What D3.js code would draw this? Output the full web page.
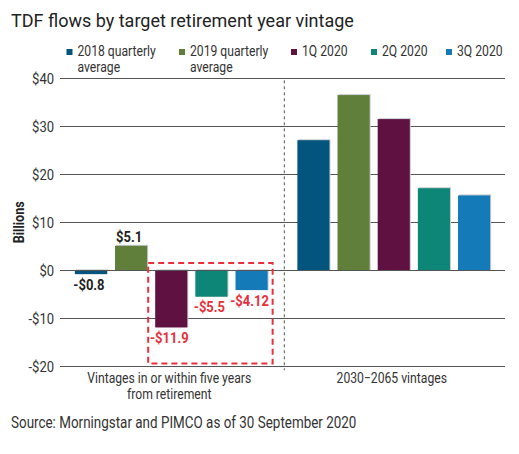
<!DOCTYPE html>
<html>
<head>
<meta charset="utf-8">
<script src="https://cdn.jsdelivr.net/npm/d3@7"></script>
<style>
  body { margin: 0; background: #fff; }
  text { font-family: Roboto, "Noto Sans", sans-serif; }
</style>
</head>
<body>
<script>
// Data
const groups = ["Vintages in or within five years|from retirement", "2030\u22122065 vintages"];
const series = ["2018 quarterly|average", "2019 quarterly|average", "1Q 2020", "2Q 2020", "3Q 2020"];
const colors = ["#03557d", "#5f7f3a", "#5f1142", "#0d8677", "#157bb8"];
const nearValues = [-0.8, 5.1, -11.9, -5.5, -4.12];
const farValues = [27.1, 36.5, 31.5, 17.1, 15.6];
const nearLabels = ["-$0.8", "$5.1", "-$11.9", "-$5.5", "-$4.12"];
const yTicks = [-20, -10, 0, 10, 20, 30, 40];

const width = 519, height = 454;
const condense = 0.84;

const svg = d3.select("body").append("svg")
  .attr("width", width)
  .attr("height", height);

// scales
const x0 = d3.scaleBand().domain(groups).range([60, 505]);
const x1 = d3.scaleBand().domain(series).range([0, x0.bandwidth()])
  .paddingInner(0.2).paddingOuter(0.37);
const y = d3.scaleLinear().domain([-20, 40]).range([366.3, 78.3]);

// condensed text helper (no condensed face installed, so squeeze Roboto)
function ctext(sel, x, yy) {
  return sel.append("text")
    .attr("transform", `translate(${x},${yy}) scale(${condense},1)`);
}

// title
svg.append("text")
  .attr("x", 11).attr("y", 27)
  .style("font-size", "18px")
  .style("fill", "#222")
  .text("TDF flows by target retirement year vintage");

// legend
const legendX = [66.5, 179, 291, 371, 446];
series.forEach((s, i) => {
  const g = svg.append("g");
  g.append("rect")
    .attr("x", legendX[i]).attr("y", 49)
    .attr("width", 6).attr("height", 6)
    .style("fill", colors[i]);
  s.split("|").forEach((line, j) => {
    ctext(g, legendX[i] + 11, 56 + j * 16)
      .style("font-size", "14.5px")
      .style("fill", "#333")
      .text(line);
  });
});

// gridlines
const yAxis = d3.axisLeft(y).tickValues(yTicks)
  .tickSize(-(505 - 60)).tickPadding(6)
  .tickFormat(d => (d < 0 ? "-$" : "$") + Math.abs(d));
const axis = svg.append("g")
  .attr("transform", "translate(60,0)")
  .call(yAxis);
axis.select(".domain").remove();
axis.selectAll("line")
  .style("stroke", "#555")
  .style("stroke-width", "1px")
  .style("shape-rendering", "crispEdges");
axis.selectAll("text")
  .attr("x", null).attr("dy", null)
  .attr("transform", `translate(-6,5.5) scale(${condense},1)`)
  .style("font-family", "Roboto, sans-serif")
  .style("font-size", "15.5px")
  .style("fill", "#333");

// y label
svg.append("text")
  .attr("transform", `translate(24,${(y(40) + y(-20)) / 2}) rotate(-90) scale(${condense},1)`)
  .attr("text-anchor", "middle")
  .style("font-size", "15px")
  .style("font-weight", "bold")
  .style("fill", "#222")
  .text("Billions");

// divider
const divX = (x0(groups[0]) + x1(series[4]) + x1.bandwidth() + x0(groups[1]) + x1(series[0])) / 2 + 1.8;
svg.append("line")
  .attr("x1", divX).attr("x2", divX)
  .attr("y1", y(40) + 2).attr("y2", y(-20) + 4)
  .style("stroke", "#555")
  .style("stroke-width", 1)
  .style("stroke-dasharray", "3,3");

// bars
const table = [nearValues, farValues].map((vals, gi) =>
  vals.map((v, si) => ({ group: groups[gi], series: series[si], value: v, color: colors[si] })));

const bars = svg.append("g").selectAll("g")
  .data(table.flat())
  .enter().append("g")
  .attr("transform", d => `translate(${x0(d.group) + x1(d.series)},0)`);

// light edge on top/right
bars.append("rect")
  .attr("x", 1)
  .attr("y", d => Math.min(y(d.value), y(0)) - 1)
  .attr("width", x1.bandwidth())
  .attr("height", d => Math.abs(y(d.value) - y(0)) + 1)
  .style("fill", "#c9ccd0");

bars.append("rect")
  .attr("x", 0)
  .attr("y", d => Math.min(y(d.value), y(0)))
  .attr("width", x1.bandwidth())
  .attr("height", d => Math.abs(y(d.value) - y(0)))
  .style("fill", d => d.color);

// zero line over bars
svg.append("line")
  .attr("x1", 60).attr("x2", 505)
  .attr("y1", y(0)).attr("y2", y(0))
  .style("stroke", "#555")
  .style("shape-rendering", "crispEdges");

// value labels for near-retirement vintages
nearValues.forEach((v, i) => {
  const cx = x0(groups[0]) + x1(series[i]) + x1.bandwidth() / 2 - 2;
  const ly = v >= 0 ? y(v) - 4 : y(v) + 15.5;
  ctext(svg, cx, ly)
    .attr("text-anchor", "middle")
    .style("font-size", "15.5px")
    .style("font-weight", "bold")
    .style("fill", i >= 2 ? "#e8303a" : "#222")
    .text(nearLabels[i]);
});

// highlight box
const boxX1 = x0(groups[0]) + x1(series[2]) - 7;
const boxX2 = x0(groups[0]) + x1(series[4]) + x1.bandwidth() + 5;
svg.append("rect")
  .attr("x", boxX1).attr("y", y(1.5))
  .attr("width", boxX2 - boxX1)
  .attr("height", y(-19.4) - y(1.5))
  .style("fill", "none")
  .style("stroke", "#e8303a")
  .style("stroke-width", 2)
  .style("stroke-dasharray", "6,4");

// category labels
groups.forEach(g => {
  g.split("|").forEach((line, j) => {
    ctext(svg, x0(g) + x0.bandwidth() / 2 - 2, 383 + j * 16)
      .attr("text-anchor", "middle")
      .style("font-size", "14.5px")
      .style("fill", "#333")
      .text(line);
  });
});

// source
ctext(svg, 11, 428)
  .style("font-size", "16px")
  .style("fill", "#333")
  .text("Source: Morningstar and PIMCO as of 30 September 2020");
</script>
</body>
</html>
